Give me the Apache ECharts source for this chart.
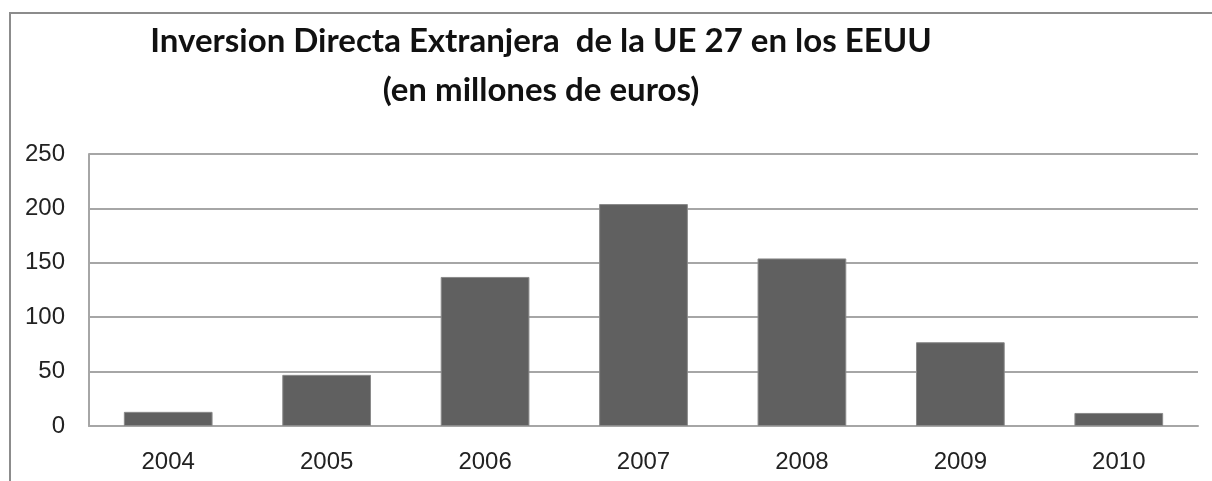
<!DOCTYPE html>
<html>
<head>
<meta charset="utf-8">
<script src="https://cdn.jsdelivr.net/npm/echarts@6/dist/echarts.min.js"></script>
<style>
  html, body { margin: 0; padding: 0; background: #fff; }
  #frame { position: absolute; left: 9px; top: 12px; width: 1220px; height: 480px; border: 2px solid #8c8c8c; box-sizing: border-box; }
  #main { position: absolute; left: 0; top: 0; width: 1212px; height: 481px; }
</style>
</head>
<body>
<div id="frame"></div>
<div id="main"></div>
<script>
// data
var years = ["2004", "2005", "2006", "2007", "2008", "2009", "2010"];
var inversion = [13, 47, 137, 204, 154, 77, 12];
var titleLines = ["Inversion Directa Extranjera  de la UE 27 en los EEUU", "(en millones de euros)"];

var chart = echarts.init(document.getElementById("main"));

chart.setOption({
  backgroundColor: "transparent",
  animation: false,
  title: {
    text: titleLines.join("\n"),
    left: 536,
    top: 12,
    textAlign: "center",
    textStyle: {
      fontFamily: "Lato",
      fontWeight: "bold",
      fontSize: 33,
      lineHeight: 49,
      color: "#111"
    }
  },
  grid: { left: 89, right: 14, top: 154, bottom: 55 },
  xAxis: {
    type: "category",
    data: years,
    axisTick: { show: false },
    axisLine: { lineStyle: { color: "#a6a6a6", width: 2 } },
    axisLabel: { color: "#222", fontSize: 24, fontFamily: "Liberation Sans", margin: 24 }
  },
  yAxis: {
    type: "value",
    min: 0,
    max: 250,
    interval: 50,
    axisLine: { show: true, lineStyle: { color: "#a6a6a6", width: 2 } },
    axisTick: { show: false },
    splitLine: { lineStyle: { color: "#a6a6a6", width: 2 } },
    axisLabel: { color: "#222", fontSize: 24, fontFamily: "Liberation Sans", margin: 24 }
  },
  series: [
    {
      type: "bar",
      data: inversion,
      barWidth: "56%",
      itemStyle: { color: "#606060", borderColor: "#8a8a8a", borderWidth: 1 }
    }
  ]
});
</script>
</body>
</html>
